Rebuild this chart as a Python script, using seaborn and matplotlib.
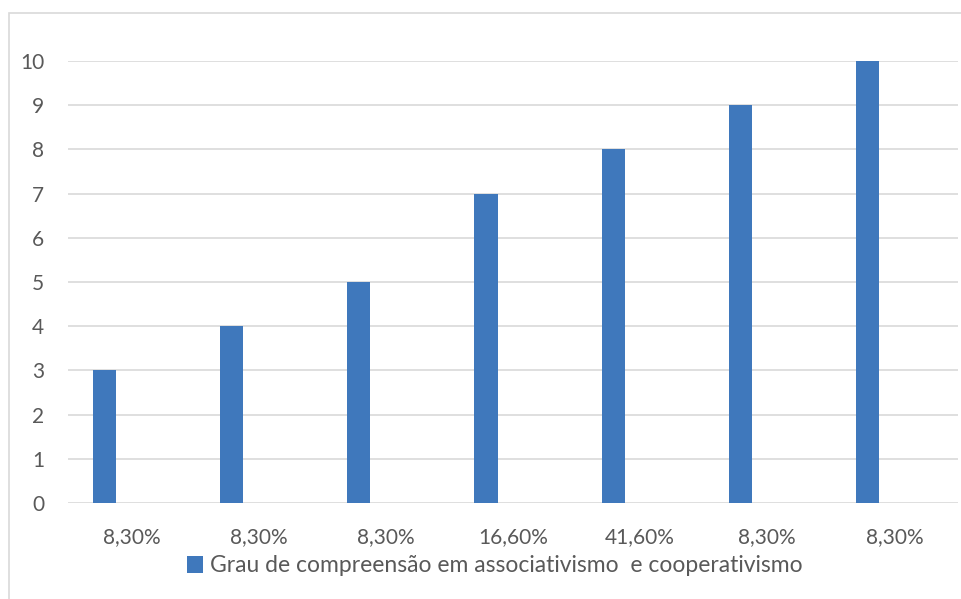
import matplotlib
matplotlib.use("Agg")
import matplotlib.pyplot as plt
from matplotlib.patches import Patch, Rectangle
import pandas as pd
import seaborn as sns

# Chart data
categories = ["8,30%", "8,30%", "8,30%", "16,60%", "41,60%", "8,30%", "8,30%"]
values = [3, 4, 5, 7, 8, 9, 10]
series_name = "Grau de compreensão em associativismo  e cooperativismo"
y_ticks = list(range(0, 11))

BAR_COLOR = "#3F78BC"
GRID_COLOR = "#D9D9D9"
TEXT_COLOR = "#595959"

sns.set_style("white")
plt.rcParams["font.family"] = ["Lato", "DejaVu Sans"]

n = len(categories)
# Clustered layout: the series takes the first of two slots in each category,
# the second slot is an empty placeholder series
df = pd.DataFrame({
    "pos": list(range(n)) * 2,
    "value": values + [0] * n,
    "series": [series_name] * n + ["_empty"] * n,
})

fig = plt.figure(figsize=(9.62, 5.99), dpi=100)
ax = fig.add_axes([68 / 962, 1 - 503 / 599, (958 - 68) / 962, (503 - 61) / 599])

sns.barplot(
    data=df, x="pos", y="value", hue="series",
    hue_order=[series_name, "_empty"],
    palette=[BAR_COLOR, BAR_COLOR],
    width=0.85, gap=0.57, linewidth=0, saturation=1,
    legend=False, ax=ax,
)

ax.set_ylim(0, 10)
ax.set_xlim(-0.5, n - 0.5)
ax.set_yticks(y_ticks)
ax.set_xticks(range(n))
ax.set_xticklabels(categories)
ax.set_xlabel("")
ax.set_ylabel("")
ax.yaxis.grid(True, color=GRID_COLOR, linewidth=1.2)
ax.set_axisbelow(True)
for side in ("left", "right", "top", "bottom"):
    ax.spines[side].set_visible(False)
ax.tick_params(axis="both", length=0, labelsize=15, labelcolor=TEXT_COLOR)
ax.tick_params(axis="y", pad=17)
ax.tick_params(axis="x", pad=17)

handle = Patch(facecolor=BAR_COLOR, edgecolor="none")
fig.legend(
    [handle], [series_name],
    loc="center", bbox_to_anchor=(495 / 962, 1 - 566 / 599),
    frameon=False, fontsize=16.5, labelcolor=TEXT_COLOR,
    handlelength=0.7, handleheight=0.7, handletextpad=0.3,
    borderpad=0, borderaxespad=0,
)

# Chart area outline
fig.patches.append(Rectangle(
    (9 / 962, -0.02), 1.0, 1 - 13 / 599 + 0.02,
    transform=fig.transFigure, fill=False,
    edgecolor=GRID_COLOR, linewidth=1.2,
))

fig.savefig("out.png", dpi=100)
